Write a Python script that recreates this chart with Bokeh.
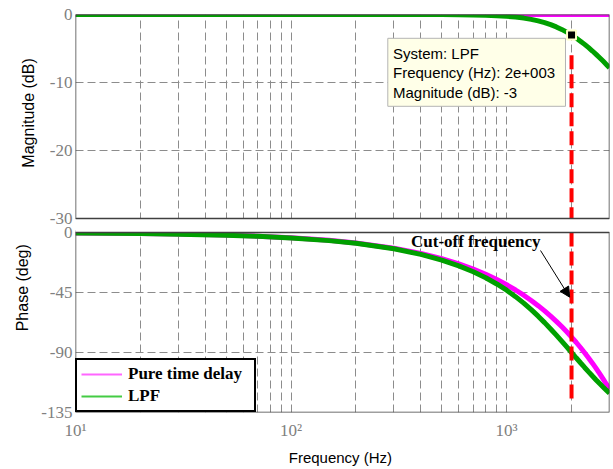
import math
from bokeh.plotting import figure
from bokeh.layouts import row
from bokeh.models import (Range1d, FixedTicker, Legend, LegendItem, Label, Arrow,
                          NormalHead, BoxAnnotation, CustomJSTickFormatter)
from bokeh.core.properties import value
from bokeh.embed import file_html
from bokeh.resources import INLINE

# ---------------- data ----------------
freq_hz = [10, 20, 30, 50, 70, 100, 150, 200, 300, 400, 500, 600, 700, 800, 900,
           1000, 1100, 1200, 1300, 1400, 1500, 1600, 1700, 1800, 1900, 2000,
           2100, 2200, 2300, 2400, 2500, 2600, 2700, 2800, 2900, 3000]

lpf_mag_db = [0, 0, 0, 0, 0, 0, 0, 0, -0.002, -0.007, -0.017, -0.035, -0.065, -0.11,
              -0.174, -0.263, -0.38, -0.53, -0.714, -0.935, -1.19, -1.49, -1.824,
              -2.19, -2.588, -3.01, -3.455, -3.92, -4.393, -4.877, -5.37, -5.862,
              -6.356, -6.85, -7.341, -7.83]

delay_mag_db = [0, 0, 0, 0, 0, 0, 0, 0, 0, 0, 0, 0, 0, 0, 0, 0, 0, 0,
                0, 0, 0, 0, 0, 0, 0, 0, 0, 0, 0, 0, 0, 0, 0, 0, 0, 0]

lpf_phase_deg = [-0.41, -0.81, -1.22, -2.03, -2.84, -4.05, -6.09, -8.13, -12.24, -16.41,
                 -20.66, -25.0, -29.43, -33.96, -38.59, -43.3, -48.12, -52.97, -57.86,
                 -62.75, -67.58, -72.35, -77.0, -81.51, -85.85, -90.0, -93.95, -97.69,
                 -101.22, -104.54, -107.65, -110.58, -113.31, -115.87, -118.27, -120.5]

delay_phase_deg = [-0.39, -0.78, -1.18, -1.96, -2.74, -3.92, -5.88, -7.84, -11.76, -15.68,
                   -19.6, -23.52, -27.44, -31.36, -35.28, -39.2, -43.12, -47.04, -50.96,
                   -54.88, -58.8, -62.72, -66.64, -70.56, -74.48, -78.4, -82.32, -86.24,
                   -90.16, -94.08, -98.0, -101.92, -105.84, -109.76, -113.68, -117.6]

series_names = ["Pure time delay", "LPF"]
y_titles = ["Magnitude (dB)", "Phase (deg)"]

cutoff_hz = 2000
datatip_hz = 2000
datatip_db = -3
datatip_lines = ["System: LPF", "Frequency (Hz): 2e+003", "Magnitude (dB): -3"]

x_major_ticks = [10, 100, 1000]
x_tick_labels = {10: "10\u00b9", 100: "10\u00b2", 1000: "10\u00b3"}
mag_ticks = [0, -10, -20, -30]
phase_ticks = [0, -45, -90, -135]

# ---------------- layout geometry (pixels) ----------------
TOP_PX = 204      # magnitude panel height
GAP_PX = 14       # gap between panels
BOT_PX = 180      # phase panel height
FRAME_PX = TOP_PX + GAP_PX + BOT_PX
DB_PER_PX = 30.0 / TOP_PX
DEG_PER_PX = 135.0 / BOT_PX
MAG_LOW = -FRAME_PX * DB_PER_PX                # magnitude value at frame bottom
PH_HIGH = (TOP_PX + GAP_PX) * DEG_PER_PX       # phase value at frame top
TITLE_W = 38                                   # width of the strip holding y titles


def phase_to_mag(ph):
    px_from_top = (PH_HIGH - ph) / DEG_PER_PX
    return -px_from_top * DB_PER_PX


# ---------------- styling ----------------
GREEN = "#00a000"
MAGENTA = "#ff00ff"
GRID = "#8c8c8c"
FRAME = "#404040"
TICKCOL = "#808080"
SERIF = "Liberation Serif"
SANS = "Liberation Sans"

x_minor = [m * d for d in (10, 100, 1000) for m in range(2, 10) if m * d <= 3000]

# ---------------- strip with the two y-axis titles ----------------
pt = figure(width=TITLE_W, height=469, x_range=Range1d(0, TITLE_W),
            y_range=Range1d(469, 0), output_backend="svg", toolbar_location=None,
            x_axis_location=None, y_axis_location=None,
            min_border_left=0, min_border_right=0, min_border_top=0, min_border_bottom=0)
pt.outline_line_color = None
pt.xgrid.visible = False
pt.ygrid.visible = False
pt.background_fill_color = "white"
pt.border_fill_color = "white"
pt.text(x=[28, 22], y=[116, 322], text=y_titles, angle=math.pi / 2,
        text_align="center", text_baseline="middle", text_font=value(SANS),
        text_font_size=value("16px"), text_color="black")

# ---------------- main Bode plot ----------------
p = figure(width=613 - TITLE_W, height=469, x_axis_type="log",
           x_range=Range1d(10, 3000), y_range=Range1d(MAG_LOW, 0),
           output_backend="svg", toolbar_location=None,
           min_border_left=74 - TITLE_W, min_border_right=4,
           min_border_top=14, min_border_bottom=57)
p.extra_y_ranges = {"phase": Range1d(-135, PH_HIGH)}
p.background_fill_color = "white"
p.border_fill_color = "white"
p.outline_line_color = None

# x axis / grid
xt = FixedTicker(ticks=x_major_ticks, minor_ticks=x_minor)
p.xaxis.ticker = xt
p.xgrid.ticker = xt
p.xgrid.grid_line_color = GRID
p.xgrid.grid_line_dash = "8 4"
p.xgrid.minor_grid_line_color = GRID
p.xgrid.minor_grid_line_dash = "8 4"
p.xaxis.major_label_overrides = x_tick_labels
p.xaxis.major_label_text_font = SERIF
p.xaxis.major_label_text_font_size = "17px"
p.xaxis.major_label_text_color = TICKCOL
p.xaxis.major_label_standoff = 8
p.xaxis.major_tick_out = 0
p.xaxis.major_tick_in = 0
p.xaxis.minor_tick_out = 0
p.xaxis.minor_tick_in = 0
p.xaxis.axis_line_color = None
p.xaxis.axis_label = "Frequency  (Hz)"
p.xaxis.axis_label_text_font = SANS
p.xaxis.axis_label_text_font_style = "normal"
p.xaxis.axis_label_text_font_size = "15px"
p.xaxis.axis_label_text_color = "black"
p.xaxis.axis_label_standoff = 6

# y axis: magnitude ticks on the top panel, phase ticks on the bottom panel
y_tick_pos = list(mag_ticks) + [phase_to_mag(v) for v in phase_ticks]
yt = FixedTicker(ticks=y_tick_pos)
p.yaxis.ticker = yt
p.ygrid.ticker = yt
p.ygrid.grid_line_color = GRID
p.ygrid.grid_line_dash = "8 4"
p.yaxis.formatter = CustomJSTickFormatter(
    args=dict(lim=-30.5, dbpp=DB_PER_PX, degpp=DEG_PER_PX, phh=PH_HIGH),
    code="""
    if (tick > lim) { return String(Math.round(tick)); }
    const px = -tick / dbpp;
    return String(Math.round(phh - px * degpp));
    """)
p.yaxis.major_label_text_font = SERIF
p.yaxis.major_label_text_font_size = "17px"
p.yaxis.major_label_text_color = TICKCOL
p.yaxis.major_label_standoff = 3
p.yaxis.major_tick_out = 0
p.yaxis.major_tick_in = 0
p.yaxis.minor_tick_out = 0
p.yaxis.minor_tick_in = 0
p.yaxis.axis_line_color = None

# ---------------- magnitude curves ----------------
p.line(freq_hz, delay_mag_db, line_color=MAGENTA, line_width=5)
p.line(freq_hz, lpf_mag_db, line_color=GREEN, line_width=5)
p.line([cutoff_hz, cutoff_hz], [-6, -30], line_color="red", line_width=4,
       line_dash="14 5")

# ---------------- phase curves ----------------
p.line(freq_hz, delay_phase_deg, line_color=MAGENTA, line_width=5, y_range_name="phase")
p.line(freq_hz, lpf_phase_deg, line_color=GREEN, line_width=5, y_range_name="phase")
p.line([cutoff_hz, cutoff_hz], [0, -124.5], line_color="red", line_width=4,
       line_dash="14 5", y_range_name="phase")

# white gap between the panels, then a box around each panel
p.add_layout(BoxAnnotation(bottom=phase_to_mag(0), top=-30, fill_color="white",
                           fill_alpha=1.0, line_color=None))
p.add_layout(BoxAnnotation(top=0, bottom=-30, fill_alpha=0.0, line_color=FRAME,
                           line_width=1.5, line_alpha=1.0))
p.add_layout(BoxAnnotation(top=phase_to_mag(0), bottom=MAG_LOW, fill_alpha=0.0,
                           line_color=FRAME, line_width=1.5, line_alpha=1.0))

# data tip
p.add_layout(BoxAnnotation(left=281, right=1875, top=-3.5, bottom=-13.5,
                           fill_color="#ffffe8", fill_alpha=1.0,
                           line_color="#b4b4b4", line_width=1, line_alpha=1.0))
for txt, yv in zip(datatip_lines, [-5.75, -8.55, -11.45]):
    p.add_layout(Label(x=297, y=yv, text=txt, text_font=SANS,
                       text_font_size="15px", text_baseline="middle",
                       text_color="black"))
p.scatter([datatip_hz], [datatip_db], marker="square", size=9,
          fill_color="black", line_color="#ffffc8", line_width=2)

# cut-off annotation
p.add_layout(Label(x=360, y=-6.8, y_range_name="phase", text="Cut-off frequency",
                   text_font=SERIF, text_font_size="17px", text_font_style="bold",
                   text_baseline="middle", text_color="black"))
p.add_layout(Arrow(end=NormalHead(size=10, fill_color="black", line_color="black"),
                   x_start=1436, y_start=-13.5, x_end=1960, y_end=-48.5,
                   y_range_name="phase", line_color="black", line_width=1))

# legend with thin sample lines (dummy renderers outside the visible range)
leg_delay = p.line([1, 2], [500, 500], line_color="#ff66ff", line_width=2)
leg_lpf = p.line([1, 2], [500, 500], line_color="#44cc44", line_width=2)
legend = Legend(items=[LegendItem(label=series_names[0], renderers=[leg_delay]),
                       LegendItem(label=series_names[1], renderers=[leg_lpf])],
                location="bottom_left", margin=0, padding=4, spacing=2,
                glyph_width=41, glyph_height=20, label_height=20, label_width=122,
                label_standoff=6,
                label_text_font=SERIF, label_text_font_size="17px",
                label_text_font_style="bold", label_text_color="black",
                border_line_color="black", border_line_width=2, border_line_alpha=1.0,
                background_fill_color="white", background_fill_alpha=1.0)
p.add_layout(legend)

layout = row(pt, p, spacing=0)
open("out.html", "w").write(file_html(layout, INLINE))
